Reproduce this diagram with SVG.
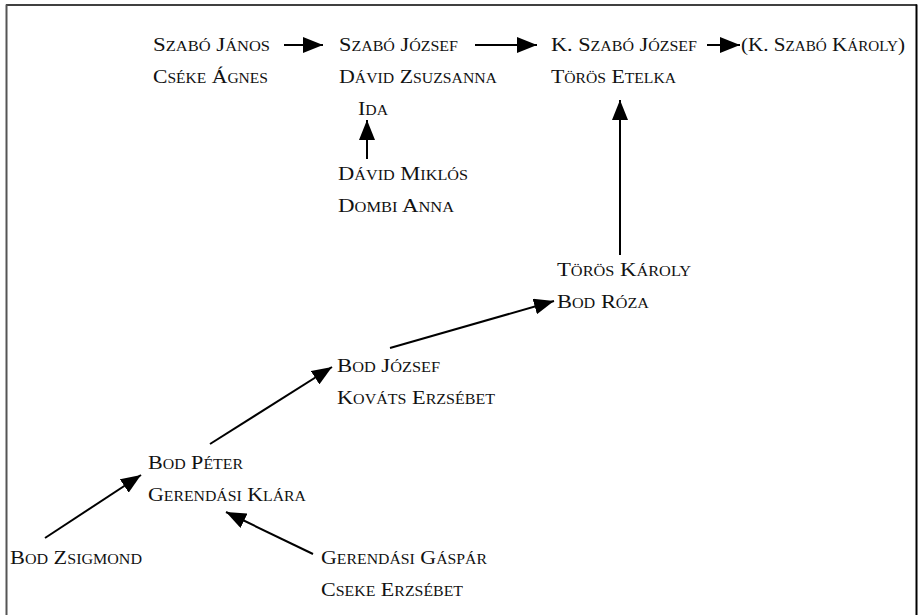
<svg xmlns="http://www.w3.org/2000/svg" width="919" height="615" viewBox="0 0 919 615">
<style>
text{font-family:"Liberation Serif","Times New Roman",serif;font-size:19.5px;font-variant:small-caps;fill:#111}
.c{stroke:#000;stroke-width:2;fill:none}
</style>
<defs>
<marker id="ah" markerUnits="userSpaceOnUse" markerWidth="20" markerHeight="16" refX="20" refY="8" orient="auto">
<path d="M0,0 L20,8 L0,16 z" fill="#000"/>
</marker>
</defs>
<rect width="919" height="615" fill="#fff"/>
<g id="frame">
<line x1="6" y1="5" x2="917" y2="5" stroke="#000" stroke-width="1.5"/>
<line x1="6.5" y1="4.5" x2="6.5" y2="615" stroke="#555" stroke-width="2"/>
<line x1="916.5" y1="4.5" x2="916.5" y2="615" stroke="#000" stroke-width="2"/>
</g>
<g id="connectors">
<line class="c" x1="284" y1="45" x2="323" y2="45" marker-end="url(#ah)"/>
<line class="c" x1="475" y1="45" x2="537" y2="45" marker-end="url(#ah)"/>
<line class="c" x1="707" y1="45" x2="740" y2="45" marker-end="url(#ah)"/>
<line class="c" x1="367" y1="159" x2="367" y2="120" marker-end="url(#ah)"/>
<line class="c" x1="620" y1="255" x2="620" y2="100" marker-end="url(#ah)"/>
<line class="c" x1="390" y1="348" x2="554" y2="301" marker-end="url(#ah)"/>
<line class="c" x1="210" y1="444" x2="332" y2="367" marker-end="url(#ah)"/>
<line class="c" x1="45" y1="538" x2="141" y2="475" marker-end="url(#ah)"/>
<line class="c" x1="313" y1="554" x2="226" y2="512" marker-end="url(#ah)"/>
</g>
<g id="n-szabo-janos"><text x="153" y="51" textLength="117" lengthAdjust="spacingAndGlyphs">Szabó János</text><text x="153" y="83" textLength="115" lengthAdjust="spacingAndGlyphs">Cséke Ágnes</text></g>
<g id="n-szabo-jozsef"><text x="339" y="51" textLength="119" lengthAdjust="spacingAndGlyphs">Szabó József</text><text x="339" y="83" textLength="158" lengthAdjust="spacingAndGlyphs">Dávid Zsuzsanna</text><text x="358" y="115" textLength="30" lengthAdjust="spacingAndGlyphs">Ida</text></g>
<g id="n-david-miklos"><text x="338" y="180" textLength="130" lengthAdjust="spacingAndGlyphs">Dávid Miklós</text><text x="338" y="212" textLength="116" lengthAdjust="spacingAndGlyphs">Dombi Anna</text></g>
<g id="n-k-szabo-jozsef"><text x="551" y="51" textLength="146" lengthAdjust="spacingAndGlyphs">K. Szabó József</text><text x="551" y="83" textLength="125" lengthAdjust="spacingAndGlyphs">Törös Etelka</text></g>
<g id="n-k-szabo-karoly"><text x="741" y="51" textLength="164" lengthAdjust="spacingAndGlyphs">(K. Szabó Károly)</text></g>
<g id="n-toros-karoly"><text x="557" y="276" textLength="134" lengthAdjust="spacingAndGlyphs">Törös Károly</text><text x="557" y="308" textLength="92" lengthAdjust="spacingAndGlyphs">Bod Róza</text></g>
<g id="n-bod-jozsef"><text x="337" y="372" textLength="103" lengthAdjust="spacingAndGlyphs">Bod József</text><text x="337" y="404" textLength="158" lengthAdjust="spacingAndGlyphs">Kováts Erzsébet</text></g>
<g id="n-bod-peter"><text x="148" y="469" textLength="95" lengthAdjust="spacingAndGlyphs">Bod Péter</text><text x="148" y="501" textLength="158" lengthAdjust="spacingAndGlyphs">Gerendási Klára</text></g>
<g id="n-bod-zsigmond"><text x="10" y="564" textLength="132" lengthAdjust="spacingAndGlyphs">Bod Zsigmond</text></g>
<g id="n-gerendasi-gaspar"><text x="321" y="564" textLength="166" lengthAdjust="spacingAndGlyphs">Gerendási Gáspár</text><text x="321" y="596" textLength="142" lengthAdjust="spacingAndGlyphs">Cseke Erzsébet</text></g>
</svg>
